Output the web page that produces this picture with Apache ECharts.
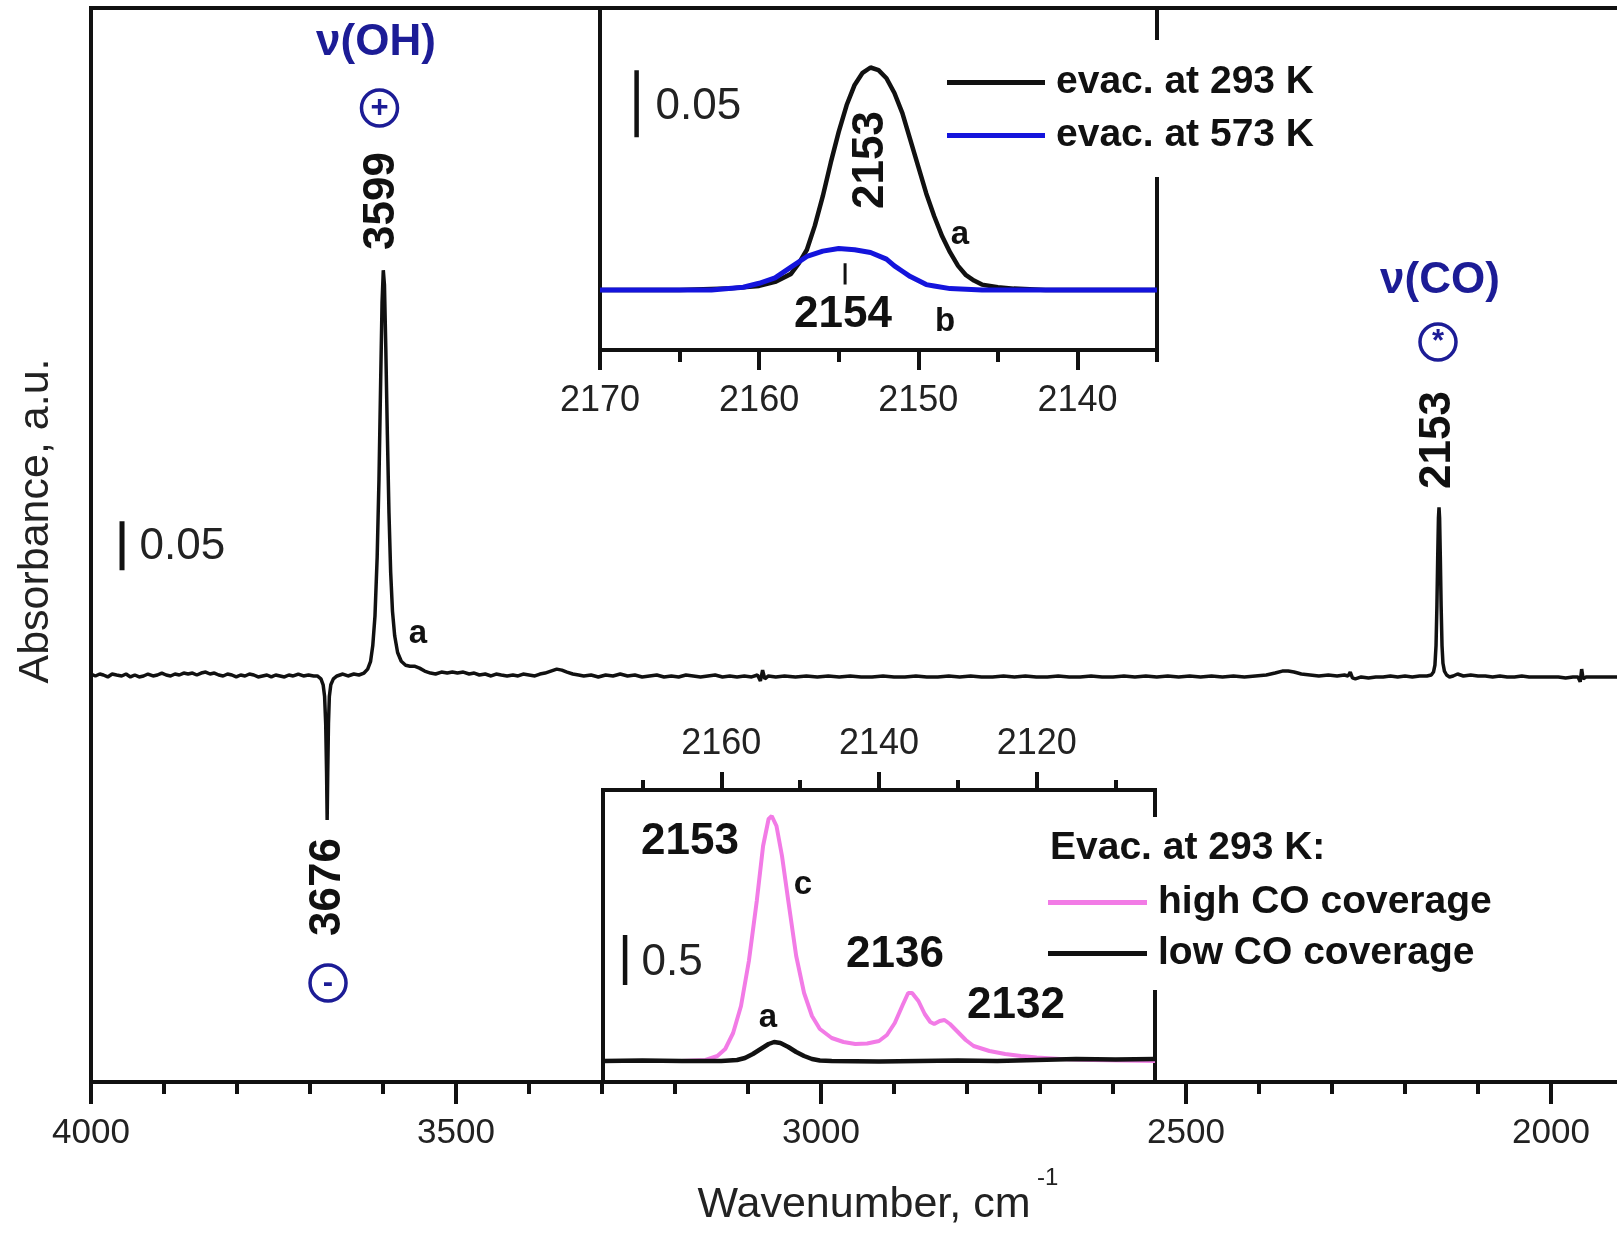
<!DOCTYPE html>
<html>
<head>
<meta charset="utf-8">
<script src="https://cdn.jsdelivr.net/npm/echarts@6/dist/echarts.min.js"></script>
<style>html,body{margin:0;padding:0;background:#fff}#c{width:1617px;height:1233px}</style>
</head>
<body>
<div id="c"></div>
<script>
// ---------------- DATA ----------------
// Main spectrum: [wavenumber cm-1, absorbance (baseline = 0)]
const mainSpectrum = [
 [4000,0.001],[3994,-0.001],[3988,0.001],[3983,0.000],[3977,-0.002],[3971,0.001],[3965,0.000],[3958,-0.001],
 [3952,0.001],[3946,-0.002],[3940,0.000],[3934,-0.002],[3928,-0.001],[3922,0.001],[3915,-0.001],[3909,0.000],
 [3903,0.002],[3897,0.000],[3891,-0.001],[3885,0.001],[3879,0.000],[3873,0.002],[3867,0.001],[3861,0.002],
 [3855,0.000],[3849,0.002],[3843,0.003],[3837,0.001],[3831,0.002],[3825,0.000],[3819,-0.001],[3813,0.001],
 [3807,0.000],[3801,-0.002],[3795,0.000],[3789,-0.001],[3783,0.001],[3777,0.000],[3771,-0.002],[3765,-0.001],
 [3759,0.000],[3753,-0.002],[3747,0.000],[3741,-0.001],[3735,-0.002],[3729,0.000],[3723,-0.001],[3716,0.001],
 [3709,-0.001],[3702,0.000],[3695,-0.001],[3690,-0.001],[3685,-0.004],[3682,-0.010],[3680,-0.022],[3678.5,-0.050],
 [3677.3,-0.100],[3676.5,-0.148],[3675.7,-0.100],[3674.7,-0.050],[3673.5,-0.022],[3671.5,-0.010],
 [3668,-0.004],[3663,-0.001],[3655,0.001],[3648,-0.001],[3640,0.001],[3633,0.000],[3626,0.002],
 [3621,0.006],[3617,0.014],[3614,0.030],[3611,0.060],[3608,0.120],[3605.5,0.200],[3603.2,0.300],
 [3601.3,0.380],[3599.6,0.413],[3598,0.398],[3596.2,0.335],[3594,0.245],[3591.8,0.165],[3589.5,0.105],
 [3587,0.065],[3584,0.040],[3580,0.023],[3575,0.014],[3569,0.010],[3563,0.009],[3557,0.009],[3550,0.007],
 [3543,0.004],[3535,0.002],[3528,0.001],[3520,0.003],[3512,0.002],[3505,0.003],[3498,0.002],[3490,0.003],
 [3482,0.001],[3475,0.002],[3468,0.000],[3460,0.001],[3452,-0.001],[3445,0.001],[3438,0.000],[3430,-0.001],
 [3422,0.000],[3415,-0.001],[3408,0.001],[3400,0.000],[3392,-0.001],[3385,0.001],[3378,0.002],[3370,0.004],
 [3362,0.006],[3355,0.005],[3348,0.003],[3340,0.001],[3332,0.000],[3325,-0.001],[3315,0.000],[3305,-0.002],
 [3295,0.000],[3285,-0.001],[3275,0.001],[3265,-0.001],[3255,0.000],[3245,-0.002],[3235,-0.001],[3225,0.000],
 [3215,-0.002],[3205,-0.001],[3195,-0.002],[3185,0.000],[3175,-0.001],[3165,-0.002],[3155,-0.001],[3145,0.000],
 [3135,-0.002],[3125,-0.001],[3115,-0.002],[3105,-0.001],[3095,-0.002],[3087,0.000],[3083,-0.006],[3080,0.005],
 [3077,-0.004],[3072,-0.001],[3062,-0.002],[3050,-0.001],[3035,-0.002],[3020,-0.001],[3005,-0.002],[2990,-0.001],
 [2975,-0.002],[2960,-0.001],[2945,-0.002],[2930,-0.002],[2915,-0.001],[2900,-0.002],[2885,-0.002],[2870,-0.001],
 [2855,-0.002],[2840,-0.002],[2825,-0.001],[2810,-0.002],[2795,-0.001],[2780,-0.002],[2765,-0.002],[2750,-0.001],
 [2735,-0.002],[2720,-0.001],[2705,-0.002],[2690,-0.002],[2675,-0.001],[2660,-0.002],[2645,-0.002],[2630,-0.001],
 [2615,-0.002],[2600,-0.002],[2585,-0.001],[2570,-0.002],[2555,-0.001],[2540,-0.002],[2525,-0.001],[2510,-0.002],
 [2495,-0.001],[2480,-0.002],[2465,-0.001],[2450,-0.002],[2435,-0.001],[2420,-0.002],[2405,-0.001],[2390,0.000],
 [2378,0.002],[2368,0.004],[2360,0.004],[2352,0.003],[2342,0.001],[2330,0.000],[2318,-0.001],[2305,0.000],
 [2293,-0.001],[2283,0.000],[2278,-0.001],[2275,0.003],[2272,-0.003],[2268,-0.004],[2260,-0.002],[2250,-0.003],
 [2240,-0.002],[2230,-0.002],[2220,-0.001],[2210,-0.002],[2200,-0.001],[2190,-0.002],[2180,-0.001],[2170,-0.001],
 [2164,0.000],[2161,0.003],[2159,0.010],[2157.5,0.030],[2156.3,0.070],[2155.2,0.120],[2154.2,0.160],
 [2153.4,0.171],[2152.6,0.160],[2151.6,0.120],[2150.5,0.070],[2149.3,0.030],[2148,0.012],[2146,0.004],
 [2143,0.000],[2139,-0.002],[2134,-0.001],[2128,0.001],[2120,-0.001],[2110,0.000],[2100,-0.001],[2090,-0.001],
 [2080,-0.002],[2070,-0.001],[2060,-0.002],[2050,-0.002],[2040,-0.001],[2030,-0.002],[2020,-0.002],[2010,-0.002],
 [2000,-0.002],[1990,-0.002],[1980,-0.003],[1970,-0.002],[1963,-0.002],[1960,-0.007],[1958,0.006],[1956,-0.004],
 [1952,-0.002],[1940,-0.002],[1930,-0.002],[1920,-0.002],[1910,-0.002],[1900,-0.002]
];
// Upper inset: CO region
const evac293 = [
 [2170,0.000],[2165,0.000],[2162,0.001],[2160,0.003],[2159,0.006],[2158,0.012],[2157.5,0.020],[2157,0.030],
 [2156.5,0.048],[2156,0.070],[2155.5,0.095],[2155,0.118],[2154.5,0.138],[2154,0.153],[2153.5,0.162],
 [2153,0.166],[2152.5,0.164],[2152,0.158],[2151.5,0.147],[2151,0.132],[2150.5,0.112],[2150,0.092],
 [2149.5,0.072],[2149,0.055],[2148.5,0.040],[2148,0.028],[2147.5,0.018],[2147,0.011],[2146.5,0.007],
 [2146,0.004],[2145,0.002],[2144,0.001],[2142,0.000],[2135,0.000]
];
const evac573 = [
 [2170,0.000],[2163,0.000],[2161,0.002],[2160,0.005],[2159,0.009],[2158,0.017],[2157,0.025],[2156,0.029],
 [2155,0.031],[2154,0.030],[2153,0.028],[2152,0.023],[2151.5,0.018],[2151,0.014],[2150.5,0.010],[2150,0.007],
 [2149.5,0.004],[2149,0.003],[2148,0.001],[2146,0.000],[2135,0.000]
];
// Lower inset
const highCoverage = [
 [2175,0.00],[2165,0.00],[2162,0.01],[2160.5,0.05],[2159.5,0.12],[2158.5,0.28],[2157.5,0.55],[2156.5,1.00],
 [2155.5,1.60],[2154.7,2.15],[2154.0,2.42],[2153.6,2.45],[2153.0,2.35],[2152.3,2.05],[2151.5,1.60],
 [2150.5,1.05],[2149.5,0.68],[2148.5,0.45],[2147.5,0.32],[2146,0.23],[2144.5,0.19],[2143,0.17],[2141.5,0.175],
 [2140,0.20],[2139,0.26],[2138,0.38],[2137,0.56],[2136.3,0.68],[2135.8,0.68],[2135,0.60],[2134.2,0.47],
 [2133.5,0.39],[2133,0.37],[2132.3,0.40],[2131.7,0.41],[2131,0.37],[2130,0.29],[2129,0.21],[2128,0.15],
 [2126,0.10],[2124,0.07],[2122,0.05],[2120,0.035],[2117,0.02],[2113,0.01],[2105,0.00]
];
const lowCoverage = [
 [2175,0.00],[2170,0.005],[2165,0.00],[2160,0.00],[2158,0.01],[2157,0.03],[2156,0.07],[2155,0.12],[2154,0.17],
 [2153.3,0.19],[2152.5,0.18],[2151.5,0.14],[2150.5,0.09],[2149.5,0.05],[2148.5,0.02],[2147.5,0.005],[2146,0.00],
 [2140,-0.005],[2135,0.00],[2130,0.005],[2125,0.00],[2120,0.01],[2115,0.02],[2110,0.015],[2105,0.02]
];
// Axis ticks
const mainMajorStep = 500;
const inset1Major = [2170,2160,2150,2140];
const inset1Minor = [2165,2155,2145,2135];
const inset2Major = [2160,2140,2120];
const inset2Minor = [2170,2150,2130,2110];
// Scale bars (absorbance)
const mainBar = [[3957.5,0.107],[3957.5,0.157]];
const inset1Bar = [[2167.7,0.114],[2167.7,0.164]];
const inset2Bar = [[2172.2,0.76],[2172.2,1.26]];
const inset1Mark = [[2154.6,0.004],[2154.6,0.020]];

// ---------------- LAYOUT / STYLE ----------------
const FONT = '"Liberation Sans", Arial, sans-serif';
const BLUE_T = '#1c1c96';
const INK = '#111';

function txt(v, text, opt) {
  return {
    value: v, symbolSize: 1, itemStyle: {color: 'rgba(0,0,0,0)', opacity: 1},
    label: Object.assign({show: true, formatter: text, position: 'inside', fontFamily: FONT,
      fontWeight: 'bold', fontSize: 44, color: INK, opacity: 1}, opt || {})
  };
}
function circ(v, text) {
  return {
    value: v, symbol: 'circle', symbolSize: 36,
    itemStyle: {color: 'rgba(0,0,0,0)', borderColor: BLUE_T, borderWidth: 3.5, opacity: 1},
    label: {show: true, formatter: text, position: 'inside', fontFamily: FONT, fontWeight: 'bold',
      fontSize: 31, color: BLUE_T, opacity: 1}
  };
}
const mainNotes = [
  txt([3609.6,0.6449], 'ν(OH)', {color: BLUE_T, fontSize: 44}),
  circ([3604.8,0.5786], '+'),
  txt([3601.9,0.4837], '3599', {rotate: 90}),
  txt([3552.1,0.0418], 'a', {fontSize: 33}),
  txt([3675.3,-0.2163], '3676', {rotate: 90}),
  circ([3675.3,-0.3143], '-'),
  txt([2152.1,0.402], 'ν(CO)', {color: BLUE_T, fontSize: 44}),
  circ([2154.8,0.3398], '*'),
  txt([2154.8,0.2398], '2153', {rotate: 90}),
  txt([3934.2,0.1306], '0.05', {fontWeight: 'normal', position: 'right', distance: 0, color: '#222'})
];
const inset1Notes = [
  txt([2152.97,0.097], '2153', {rotate: 90}),
  txt([2147.38,0.041], 'a', {fontSize: 33}),
  txt([2154.73,-0.0187], '2154'),
  txt([2148.32,-0.0239], 'b', {fontSize: 33}),
  txt([2166.54,0.1366], '0.05', {fontWeight: 'normal', position: 'right', distance: 0, color: '#222'})
];
const inset2Notes = [
  txt([2163.97,2.19], '2153'),
  txt([2149.64,1.76], 'c', {fontSize: 33}),
  txt([2154.08,0.43], 'a', {fontSize: 33}),
  txt([2137.97,1.06], '2136'),
  txt([2122.63,0.55], '2132'),
  txt([2170.18,0.98], '0.5', {fontWeight: 'normal', position: 'right', distance: 0, color: '#222'})
];

const chart = echarts.init(document.getElementById('c'), null, {renderer: 'canvas'});

const hiddenY = (gi, min, max) => ({gridIndex: gi, type: 'value', min, max, show: false, splitLine: {show: false}});
const lineS = (name, xi, data, color, width, z) => ({
  name, type: 'line', xAxisIndex: xi, yAxisIndex: xi, data, symbol: 'none', silent: true,
  lineStyle: {color, width}, itemStyle: {color}, z: z || 3, animation: false,
  emphasis: {disabled: true}
});
const noteS = (xi, data) => ({
  type: 'scatter', xAxisIndex: xi, yAxisIndex: xi, data, silent: true, z: 6, clip: false,
  animation: false, emphasis: {disabled: true}, itemStyle: {opacity: 1}
});
const plain = v => String(v);
const tickLbl = {fontSize: 36, color: '#222', fontFamily: FONT, formatter: plain};
const gridBase = {containLabel: false, outerBoundsMode: 'none'};
const G = o => Object.assign({}, gridBase, o);

const option = {
  animation: false,
  backgroundColor: '#fff',
  grid: [
    G({left: 91, top: 8, width: 1825, height: 1074, show: true, borderColor: INK, borderWidth: 4, backgroundColor: 'rgba(0,0,0,0)'}),
    G({left: 600, top: 8, width: 557, height: 342, show: true, borderColor: INK, borderWidth: 4, backgroundColor: '#fff'}),
    G({left: 600, top: 8, width: 557, height: 342, show: false}),
    G({left: 603, top: 790, width: 552, height: 292, show: true, borderColor: INK, borderWidth: 4, backgroundColor: '#fff'}),
    G({left: 603, top: 790, width: 552, height: 292, show: false})
  ],
  xAxis: [
    {gridIndex: 0, type: 'value', min: 1500, max: 4000, interval: mainMajorStep, inverse: true, position: 'bottom',
     axisLine: {onZero: false, lineStyle: {color: INK, width: 4}},
     axisTick: {length: 22, lineStyle: {color: INK, width: 4}},
     minorTick: {show: true, splitNumber: 5, length: 12, lineStyle: {color: INK, width: 4}},
     axisLabel: Object.assign({}, tickLbl, {margin: 34, showMinLabel: false, fontSize: 35}),
     splitLine: {show: false}, minorSplitLine: {show: false}},
    {gridIndex: 1, type: 'value', min: 2135, max: 2170, inverse: true, position: 'bottom',
     axisLine: {onZero: false, lineStyle: {color: INK, width: 4}},
     axisTick: {customValues: inset1Major, length: 20, lineStyle: {color: INK, width: 4}},
     axisLabel: Object.assign({customValues: inset1Major, margin: 33}, tickLbl),
     splitLine: {show: false}},
    {gridIndex: 2, type: 'value', min: 2135, max: 2170, inverse: true, position: 'bottom',
     axisLine: {show: false, onZero: false},
     axisTick: {customValues: inset1Minor, length: 12, lineStyle: {color: INK, width: 4}},
     axisLabel: {show: false}, splitLine: {show: false}},
    {gridIndex: 3, type: 'value', min: 2105, max: 2175, inverse: true, position: 'top',
     axisLine: {onZero: false, lineStyle: {color: INK, width: 4}},
     axisTick: {customValues: inset2Major, length: 18, lineStyle: {color: INK, width: 4}},
     axisLabel: Object.assign({customValues: inset2Major, margin: 28}, tickLbl),
     splitLine: {show: false}},
    {gridIndex: 4, type: 'value', min: 2105, max: 2175, inverse: true, position: 'top',
     axisLine: {show: false, onZero: false},
     axisTick: {customValues: inset2Minor, length: 10, lineStyle: {color: INK, width: 4}},
     axisLabel: {show: false}, splitLine: {show: false}}
  ],
  yAxis: [
    hiddenY(0, -0.4153, 0.6806),
    hiddenY(1, -0.0448, 0.2104),
    hiddenY(2, -0.0448, 0.2104),
    hiddenY(3, -0.21, 2.71),
    hiddenY(4, -0.21, 2.71)
  ],
  legend: [
    {data: ['evac. at 293 K', 'evac. at 573 K'], orient: 'vertical', left: 937, top: 40,
     padding: [23, 10, 22, 10], itemGap: 14, itemWidth: 98, itemHeight: 5, icon: 'rect', backgroundColor: '#fff',
     selectedMode: false, textStyle: {fontSize: 39, fontWeight: 'bold', color: INK, fontFamily: FONT, padding: [0, 0, 0, 6]}},
    {data: ['high CO coverage', 'low CO coverage'], orient: 'vertical', left: 1038, top: 817,
     padding: [66, 10, 17, 10], itemGap: 12, itemWidth: 99, itemHeight: 5, icon: 'rect', backgroundColor: '#fff',
     selectedMode: false, textStyle: {fontSize: 39, fontWeight: 'bold', color: INK, fontFamily: FONT, padding: [0, 0, 0, 6]}}
  ],
  graphic: [
    {type: 'text', x: 864, y: 1205, z: 100, silent: true,
     style: {text: 'Wavenumber, cm', font: '43px ' + FONT, fill: '#222', align: 'center', verticalAlign: 'middle', textAlign: 'center', textVerticalAlign: 'middle'}},
    {type: 'text', x: 1037, y: 1178, z: 100, silent: true,
     style: {text: '-1', font: '24px ' + FONT, fill: '#222', align: 'left', verticalAlign: 'middle', textAlign: 'left', textVerticalAlign: 'middle'}},
    {type: 'text', x: 36, y: 521, rotation: Math.PI / 2, z: 100, silent: true,
     style: {text: 'Absorbance, a.u.', font: '43px ' + FONT, fill: '#222', align: 'center', verticalAlign: 'middle', textAlign: 'center', textVerticalAlign: 'middle'}},
    {type: 'text', x: 1050, y: 848, z: 100, silent: true,
     style: {text: 'Evac. at 293 K:', font: 'bold 39px ' + FONT, fill: INK, align: 'left', verticalAlign: 'middle', textAlign: 'left', textVerticalAlign: 'middle'}}
  ],
  series: [
    lineS('main', 0, mainSpectrum, INK, 3.5),
    lineS('bar0', 0, mainBar, INK, 5),
    noteS(0, mainNotes),
    lineS('evac. at 293 K', 1, evac293, INK, 4.5),
    lineS('evac. at 573 K', 1, evac573, '#1414dc', 5, 4),
    lineS('bar1', 1, inset1Bar, INK, 4.5),
    lineS('mark1', 1, inset1Mark, INK, 3),
    noteS(1, inset1Notes),
    lineS('high CO coverage', 3, highCoverage, '#f27be6', 4),
    lineS('low CO coverage', 3, lowCoverage, INK, 4.5, 4),
    lineS('bar2', 3, inset2Bar, INK, 4.5),
    noteS(3, inset2Notes)
  ]
};
chart.setOption(option);
</script>
</body>
</html>
